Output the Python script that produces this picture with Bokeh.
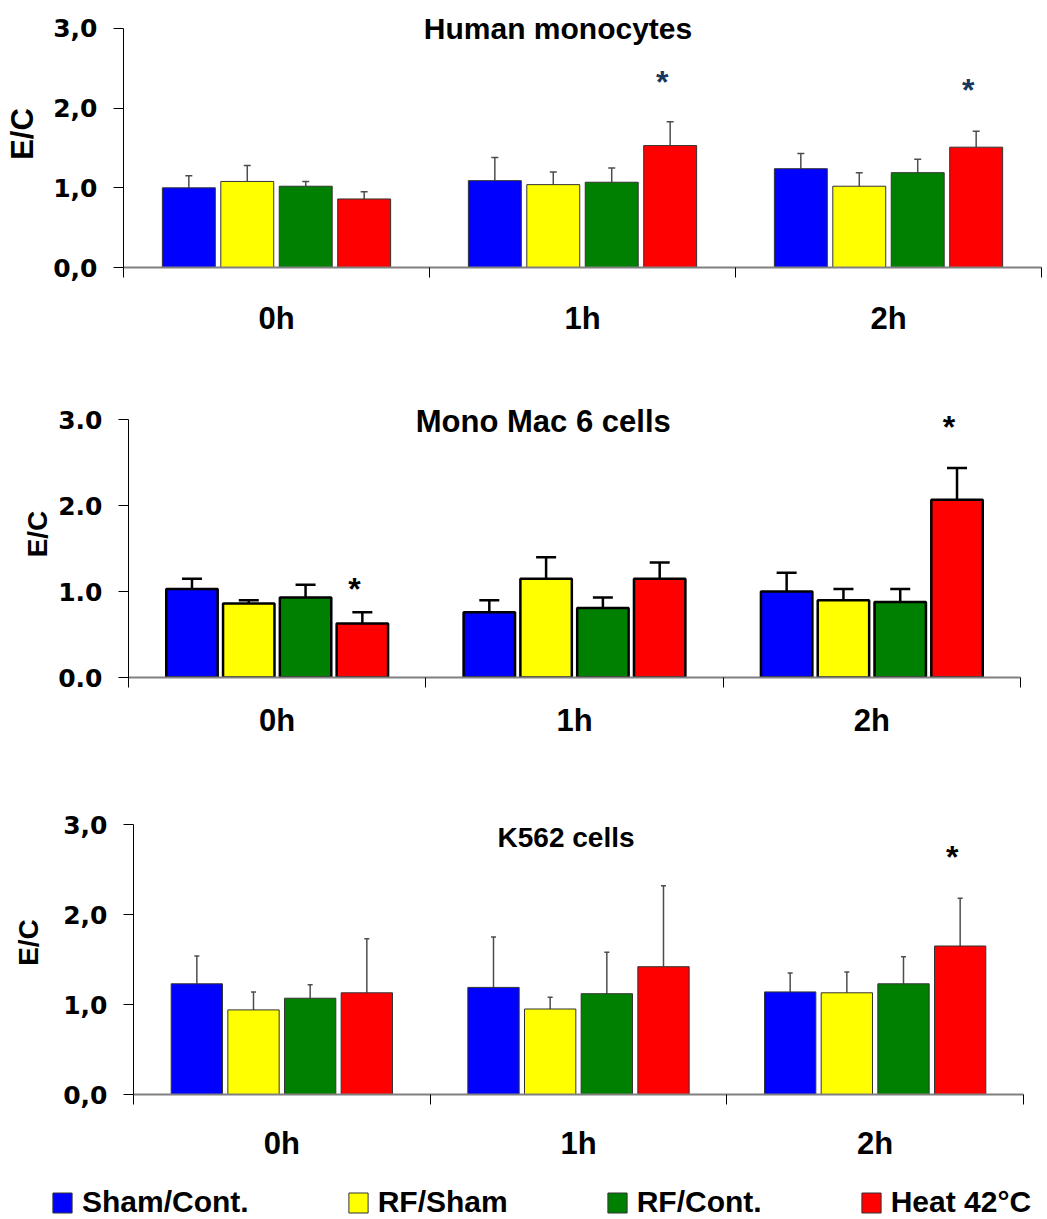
from bokeh.plotting import figure
from bokeh.models import (Range1d, FixedTicker, Whisker, TeeHead, ColumnDataSource,
                          Label, Legend, LegendItem)
from bokeh.embed import file_html
from bokeh.resources import INLINE
from bokeh.core.properties import value

# --- data -------------------------------------------------------------
times = ["0h", "1h", "2h"]
groups = ["Sham/Cont.", "RF/Sham", "RF/Cont.", "Heat 42°C"]
colors = ["#0000FF", "#FFFF00", "#008000", "#FF0000"]

# Human monocytes: mean E/C ratio per group (rows) and time (columns), plus SE
human_mean = [[1.00, 1.09, 1.24],
              [1.08, 1.04, 1.02],
              [1.02, 1.07, 1.19],
              [0.86, 1.53, 1.51]]
human_se = [[0.15, 0.29, 0.19],
            [0.20, 0.16, 0.17],
            [0.06, 0.18, 0.17],
            [0.09, 0.30, 0.20]]
human_star_time = [1, 2]
human_star_y = [2.37, 2.26]

# Mono Mac 6 cells
mm6_mean = [[1.03, 0.76, 1.00],
            [0.86, 1.15, 0.90],
            [0.93, 0.81, 0.88],
            [0.63, 1.15, 2.07]]
mm6_se = [[0.12, 0.14, 0.22],
          [0.04, 0.25, 0.13],
          [0.15, 0.12, 0.15],
          [0.13, 0.19, 0.37]]
mm6_star_time = [0, 2]
mm6_star_y = [1.07, 2.95]

# K562 cells
k562_mean = [[1.23, 1.19, 1.14],
             [0.94, 0.95, 1.13],
             [1.07, 1.12, 1.23],
             [1.13, 1.42, 1.65]]
k562_se = [[0.31, 0.56, 0.21],
           [0.20, 0.13, 0.23],
           [0.15, 0.46, 0.30],
           [0.60, 0.90, 0.53]]
k562_star_time = [2]
k562_star_y = [2.67]

y_ticks = [0, 1, 2, 3]
y_labels_comma = ["0,0", "1,0", "2,0", "3,0"]
y_labels_dot = ["0.0", "1.0", "2.0", "3.0"]

STEP = 0.191
BAR_W = 0.173
BOLD = "Liberation Sans"


def build_panel(title, title_x, title_y, title_size, means, ses, star_t, star_y,
                star_color, y_labels, y_top, height, bottom, left, right,
                outline, outline_w, whisk_color, whisk_w, head_size,
                ylabel_size, ylabel_standoff, cat_standoff):
    p = figure(width=1047, height=height, x_range=Range1d(0, 3),
               y_range=Range1d(0, y_top),
               output_backend="svg", toolbar_location=None,
               min_border_top=0, min_border_bottom=bottom,
               min_border_left=left, min_border_right=right)
    p.outline_line_color = None
    p.grid.visible = False

    for j, (g, c) in enumerate(zip(groups, colors)):
        xs = [i + 0.5 + (j - 1.5) * STEP for i in range(len(times))]
        src = ColumnDataSource(dict(
            x=xs, top=means[j],
            upper=[m + s for m, s in zip(means[j], ses[j])],
            lower=means[j]))
        p.vbar(x="x", top="top", bottom=0, width=BAR_W, source=src,
               fill_color=c, line_color=outline, line_width=outline_w)
        w = Whisker(base="x", upper="upper", lower="lower", source=src,
                    line_color=whisk_color, line_width=whisk_w,
                    upper_head=TeeHead(size=head_size, line_color=whisk_color,
                                       line_width=whisk_w),
                    lower_head=None)
        p.add_layout(w)

    # significance marks above the heat-treated bars
    star_src = ColumnDataSource(dict(
        x=[t + 0.5 + 1.5 * STEP for t in star_t], y=star_y,
        txt=["*"] * len(star_t)))
    p.text(x="x", y="y", text="txt", source=star_src, text_color=star_color,
           text_font=value(BOLD), text_font_style="bold", text_font_size="32px",
           text_align="center", text_baseline="alphabetic",
           x_offset=-8, y_offset=3)

    p.add_layout(Label(x=title_x, y=title_y, text=title, text_align="center",
                       text_baseline="middle", text_font=BOLD,
                       text_font_style="bold", text_font_size=title_size,
                       text_color="black"))

    # x axis: labels at group centres, ticks at group boundaries
    xa = p.xaxis[0]
    xa.ticker = FixedTicker(ticks=[0.5, 1.5, 2.5], minor_ticks=[0, 1, 2, 3])
    xa.major_label_overrides = {0.5: times[0], 1.5: times[1], 2.5: times[2]}
    xa.major_tick_out = 0
    xa.major_tick_in = 0
    xa.minor_tick_out = 10
    xa.minor_tick_in = 0
    xa.minor_tick_line_color = "black"
    xa.axis_line_color = "#808080"
    xa.axis_line_width = 2
    xa.major_label_text_font = BOLD
    xa.major_label_text_font_style = "bold"
    xa.major_label_text_font_size = "31px"
    xa.major_label_text_color = "black"
    xa.major_label_standoff = cat_standoff

    ya = p.yaxis[0]
    ya.ticker = FixedTicker(ticks=y_ticks)
    ya.bounds = (0, 3)
    ya.major_label_overrides = dict(zip(y_ticks, y_labels))
    ya.major_tick_out = 10
    ya.major_tick_in = 0
    ya.minor_tick_line_color = None
    ya.axis_line_color = "black"
    ya.major_tick_line_color = "black"
    ya.major_label_text_font = "DejaVu Sans"
    ya.major_label_text_font_style = "bold"
    ya.major_label_text_font_size = "25px"
    ya.major_label_text_color = "black"
    ya.major_label_standoff = 16
    ya.axis_label = "E/C"
    ya.axis_label_text_font = BOLD
    ya.axis_label_text_font_style = "bold"
    ya.axis_label_text_font_size = ylabel_size
    ya.axis_label_text_color = "black"
    ya.axis_label_standoff = ylabel_standoff
    return p


p1 = build_panel("Human monocytes", 1.42, 3.0, "30px", human_mean, human_se,
                 human_star_time, human_star_y, "#17375E", y_labels_comma,
                 3.351, 390, 123, 123, 6, "#333333", 1, "#4d4d4d", 1.5, 7,
                 "31px", 10, 23)

p2 = build_panel("Mono Mac 6 cells", 1.395, 2.98, "31px", mm6_mean, mm6_se,
                 mm6_star_time, mm6_star_y, "black", y_labels_dot,
                 3.341, 400, 113, 128, 27, "black", 2.5, "black", 2.5, 20,
                 "28px", 2, 15)

p3 = build_panel("K562 cells", 1.458, 2.86, "28px", k562_mean, k562_se,
                 k562_star_time, k562_star_y, "black", y_labels_comma,
                 3.378, 384, 80, 133, 24, "#333333", 1, "#4d4d4d", 1.5, 5,
                 "28px", 16, 21)

# key strip shared by the three panels
pk = figure(width=1047, height=45, x_range=Range1d(0, 1), y_range=Range1d(0, 1),
            output_backend="svg", toolbar_location=None,
            x_axis_location=None, y_axis_location=None,
            min_border_top=0, min_border_bottom=0,
            min_border_left=0, min_border_right=0)
pk.outline_line_color = None
pk.grid.visible = False
keys = []
for c in colors:
    r = pk.vbar(x=[0.5], top=[0.5], width=0.1, fill_color=c,
                line_color="#333333", line_width=1)
    r.visible = False
    keys.append(r)
legend = Legend(items=[LegendItem(label=g, renderers=[r]) for g, r in zip(groups, keys)],
                location=(50, 0), orientation="horizontal", spacing=97,
                glyph_width=24, glyph_height=25, label_standoff=8,
                label_text_font=BOLD, label_text_font_style="bold",
                label_text_font_size="30px", label_text_color="black",
                padding=0, margin=0, border_line_color=None,
                background_fill_alpha=0, inactive_fill_alpha=0,
                click_policy="none")
pk.add_layout(legend, "center")

# each panel is its own root so that every plot frame keeps its own position
open("out.html", "w").write(file_html([p1, p2, p3, pk], INLINE))
